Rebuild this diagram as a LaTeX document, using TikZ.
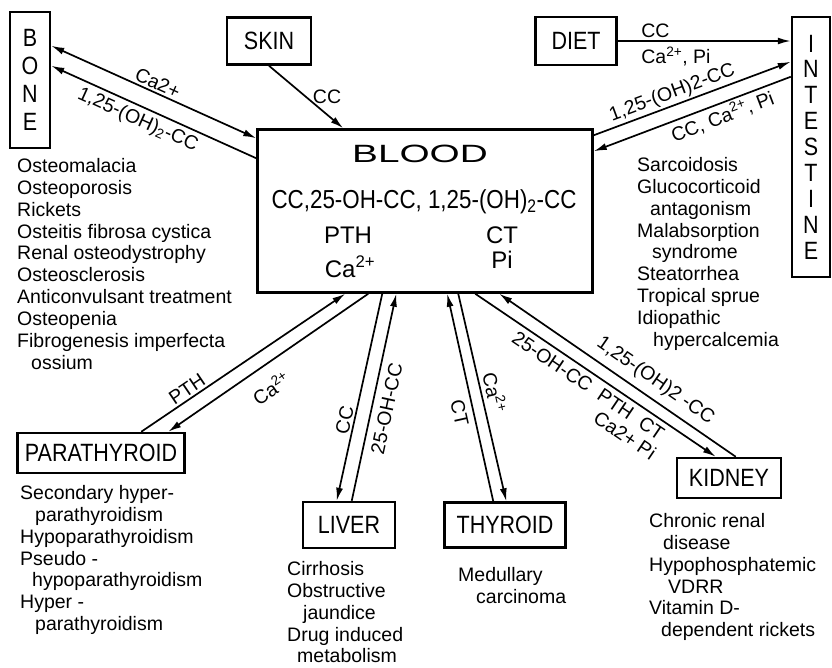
\documentclass[tikz,border=0pt]{standalone}
\usepackage{fontspec}
\setmainfont{Liberation Sans}
\newfontfamily\narrowfont[FakeStretch=0.86]{Liberation Sans}
\usetikzlibrary{arrows.meta}

\begin{document}
\begin{tikzpicture}[
    x=1pt, y=-1pt,
    organ/.style={rectangle, draw=black, line width=2.5pt, inner sep=0pt,
                  align=center, font=\narrowfont\fontsize{25}{28}\selectfont},
    disease/.style={anchor=north west, inner sep=0pt, align=left,
                    font=\fontsize{19.5}{21.9}\selectfont},
    flow/.style={line width=1.7pt},
    tag/.style={font=\fontsize{19.5}{21}\selectfont, inner sep=2pt},
    >={Latex[length=13pt,width=7pt]}
  ]
  \useasboundingbox (0,0) rectangle (832,667);

  % Organ boxes
  \node[organ, minimum width=40pt, minimum height=136pt] (bone) at (30,80) {B\\O\\N\\E};
  \node[organ, minimum width=84pt, minimum height=47pt] (skin) at (269,41) {SKIN};
  \node[organ, minimum width=81pt, minimum height=48pt] (diet) at (576,41) {DIET};
  \node[organ, minimum width=38pt, minimum height=260pt,
        font=\narrowfont\fontsize{25}{25.9}\selectfont] (intestine) at (811,147)
        {I\\N\\T\\E\\S\\T\\I\\N\\E};
  \node[organ, minimum width=167pt, minimum height=40pt] (parathyroid) at (101,453) {PARATHYROID};
  \node[organ, minimum width=92pt, minimum height=46pt] (liver) at (349,525) {LIVER};
  \node[organ, minimum width=121pt, minimum height=45pt] (thyroid) at (505,525) {THYROID};
  \node[organ, minimum width=104pt, minimum height=40pt] (kidney) at (729,478) {KIDNEY};

  % Blood compartment
  \node[organ, minimum width=335pt, minimum height=163pt] (blood) at (425,211) {};
  \node[font=\fontsize{25}{25}\selectfont] (bloodtitle) at (420,154) {\scalebox{1.55}[1]{BLOOD}};
  \node[anchor=base, font=\narrowfont\fontsize{26}{26}\selectfont] (metabolites) at (424,208)
    {CC,25-OH-CC, 1,25-(OH)\textsubscript{2}-CC};
  \node[anchor=base, font=\fontsize{24}{24}\selectfont] (pth) at (348,243) {PTH};
  \node[anchor=base, font=\fontsize{24}{24}\selectfont] (calcium) at (350,277) {Ca\textsuperscript{2+}};
  \node[anchor=base, font=\fontsize{24}{24}\selectfont] (ct) at (502,243) {CT};
  \node[anchor=base, font=\fontsize{24}{24}\selectfont] (phosphate) at (502,268) {Pi};

  % Bone exchange
  \draw[flow, <->] ([yshift=-35pt]bone.north east) --
    node[tag, sloped, above, pos=0.5] {Ca2+} ([yshift=-10pt]blood.north west);
  \draw[flow, <-] ([yshift=-55pt]bone.north east) --
    node[tag, sloped, below=2pt, pos=0.45] {1,25-(OH)\textsubscript{2}-CC} ([yshift=-30pt]blood.north west);

  % Skin and diet
  \draw[flow, ->] (skin.south) -- node[tag, right=4pt] {CC} ([xshift=87pt]blood.north west);
  \draw[flow, ->] (diet.east) --
    node[tag, pos=0.12, anchor=south west] {CC}
    node[tag, pos=0.12, anchor=north west, yshift=-3pt] {Ca\textsuperscript{2+}, Pi}
    (diet.east -| intestine.west);

  % Intestine exchange
  \draw[flow, ->] ([yshift=-7pt]blood.north east) --
    node[tag, sloped, above, pos=0.42] {1,25-(OH)2-CC} ([yshift=-46pt]intestine.north west);
  \draw[flow, ->] ([yshift=-61pt]intestine.north west) --
    node[tag, sloped, below, pos=0.37] {CC, Ca\textsuperscript{2+}, Pi} ([yshift=-23pt]blood.north east);

  % Parathyroid exchange
  \draw[flow, ->] ([xshift=125pt]parathyroid.north west) --
    node[tag, sloped, above, pos=0.25] {PTH} ([xshift=89pt]blood.south west);
  \draw[flow, ->] ([xshift=112pt]blood.south west) --
    node[tag, sloped, below=11pt, pos=0.55] {Ca\textsuperscript{2+}} ([xshift=152pt]parathyroid.north west);

  % Liver exchange
  \draw[flow, ->] ([xshift=126pt]blood.south west) --
    node[tag, sloped, above, pos=0.62] {CC} ([xshift=35pt]liver.north west);
  \draw[flow, ->] ([xshift=50pt]liver.north west) --
    node[tag, sloped, below=5pt, pos=0.46] {25-OH-CC} ([xshift=140pt]blood.south west);

  % Thyroid exchange
  \draw[flow, ->] ([xshift=50pt]thyroid.north west) --
    node[tag, sloped, below=4pt, pos=0.44] {CT} ([xshift=191pt]blood.south west);
  \draw[flow, ->] ([xshift=202pt]blood.south west) --
    node[tag, sloped, above=2pt, pos=0.49] {Ca\textsuperscript{2+}} ([xshift=63pt]thyroid.north west);

  % Kidney exchange
  \draw[flow, ->] ([xshift=219pt]blood.south west) --
    node[tag, sloped, below=3pt, pos=0.5] {25-OH-CC\ \ PTH\ \ CT}
    node[tag, sloped, below=23pt, pos=0.70] {Ca2+\ Pi} ([xshift=40pt]kidney.north west);
  \draw[flow, ->] ([xshift=60pt]kidney.north west) --
    node[tag, sloped, above=5pt, pos=0.38] {1,25-(OH)2 -CC} ([xshift=243pt]blood.south west);

  % Disorders
  \node[disease] (bonelist) at (17,158) {Osteomalacia\\Osteoporosis\\Rickets\\
    Osteitis fibrosa cystica\\Renal osteodystrophy\\Osteosclerosis\\
    Anticonvulsant treatment\\Osteopenia\\Fibrogenesis imperfecta\\\hspace*{14pt}ossium};
  \node[disease] (intestinelist) at (637,157) {Sarcoidosis\\Glucocorticoid\\
    \hspace*{13pt}antagonism\\Malabsorption\\\hspace*{15pt}syndrome\\Steatorrhea\\
    Tropical sprue\\Idiopathic\\\hspace*{16pt}hypercalcemia};
  \node[disease] (parathyroidlist) at (20,485) {Secondary hyper-\\
    \hspace*{15pt}parathyroidism\\Hypoparathyroidism\\Pseudo -\\
    \hspace*{12pt}hypoparathyroidism\\Hyper -\\\hspace*{15pt}parathyroidism};
  \node[disease] (liverlist) at (287,561) {Cirrhosis\\Obstructive\\
    \hspace*{16pt}jaundice\\Drug induced\\\hspace*{10pt}metabolism};
  \node[disease] (thyroidlist) at (458,567) {Medullary\\\hspace*{18pt}carcinoma};
  \node[disease] (kidneylist) at (649,513) {Chronic renal\\\hspace*{14pt}disease\\
    Hypophosphatemic\\\hspace*{19pt}VDRR\\Vitamin D-\\\hspace*{12pt}dependent rickets};
\end{tikzpicture}
\end{document}
